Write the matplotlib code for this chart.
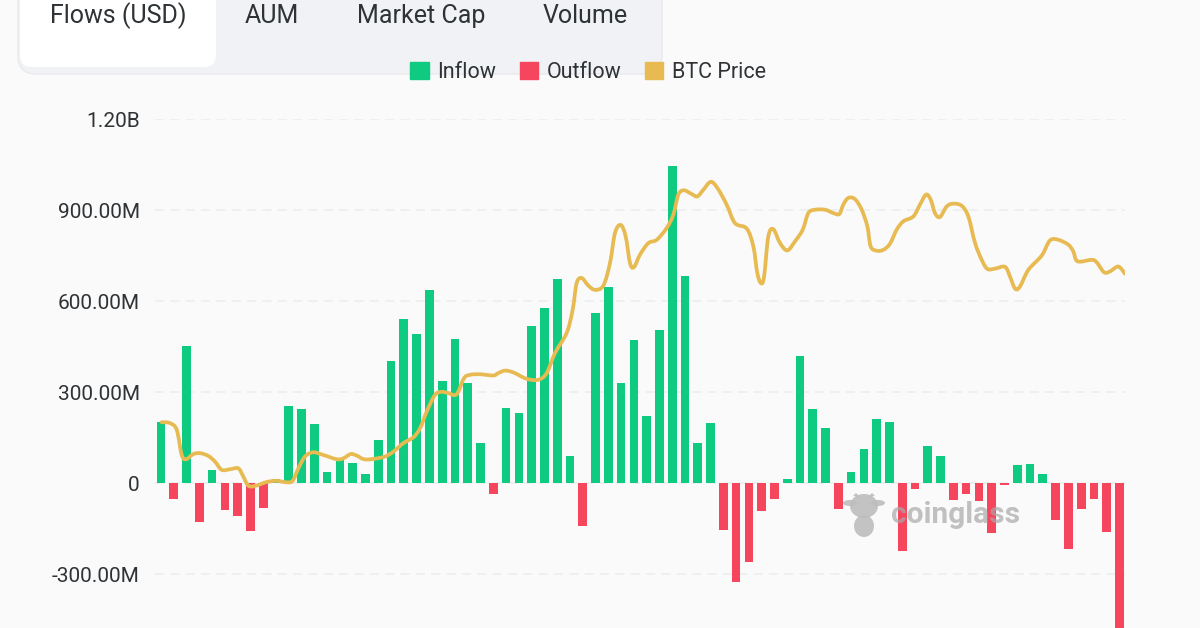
import numpy as np
import matplotlib
matplotlib.use("Agg")
import matplotlib.pyplot as plt
from matplotlib.patches import FancyBboxPatch, Patch, PathPatch, Ellipse, Polygon
from matplotlib.path import Path

# net flows per day, millions of USD
flows = [201, -53, 453, -127, 42, -88, -107, -159, -80, 14,
         253, 245, 196, 37, 77, 66, 32, 144, 403, 540,
         491, 635, 338, 475, 330, 134, -36, 249, 231, 519,
         576, 673, 91, -142, 562, 647, 331, 471, 222, 504,
         1044, 682, 132, 197, -154, -326, -260, -93, -52, 15,
         419, 243, 182, -86, 38, 113, 212, 202, -223, -20,
         123, 90, -55, -37, -58, -165, -5, 59, 62, 31,
         -121, -218, -84, -52, -162, -520]

# btc price has no axis of its own in the picture, read in flow axis units
price_x = [0.05, 0.70, 1.23, 1.62, 1.96, 2.53, 3.05, 3.70, 4.23, 4.75, 5.40, 6.05, 6.44, 6.83, 7.36,
           8.27, 9.05, 9.83, 10.30, 10.75, 11.27, 11.92, 12.70, 13.75, 14.27, 14.84, 15.31, 15.88,
           16.61, 17.53, 18.18, 18.96, 19.74, 20.27, 20.79, 21.44, 21.96, 22.48, 23.13, 23.71,
           24.18, 24.96, 26.00, 26.40, 26.92, 27.57, 28.61, 29.53, 30.18, 30.83, 31.74, 32.21,
           32.52, 32.92, 33.44, 33.96, 34.61, 35.13, 35.52, 35.97, 36.36, 36.70, 37.01, 37.48,
           38.13, 38.79, 39.57, 40.09, 40.48, 40.92, 41.52, 41.97, 42.44, 43.01, 43.53, 44.26,
           44.91, 45.83, 46.35, 46.66, 46.95, 47.19, 47.52, 47.91, 48.44, 49.01, 49.61, 50.21,
           50.65, 51.17, 51.96, 52.61, 53.08, 53.39, 53.78, 54.30, 54.83, 55.27, 55.53, 56.00,
           56.52, 57.04, 57.56, 58.09, 58.87, 59.39, 59.86, 60.23, 60.56, 60.95, 61.48, 62.00,
           62.65, 63.17, 63.70, 64.22, 64.66, 65.26, 66.04, 66.43, 66.83, 67.21, 67.87, 68.91,
           69.56, 70.21, 70.99, 71.38, 71.72, 72.82, 73.21, 73.79, 74.26, 74.91, 75.43]
price_y = [201, 198, 176, 93, 79, 96, 99, 90, 71, 44, 46, 49, 22, -8, -9,
           4, 8, 3, 8, 49, 88, 102, 93, 79, 82, 96, 91, 79,
           80, 88, 104, 132, 151, 181, 236, 291, 301, 297, 293, 346,
           357, 359, 355, 363, 371, 365, 344, 341, 363, 429, 495, 571,
           659, 676, 651, 637, 651, 725, 824, 851, 813, 725, 712, 753,
           791, 802, 841, 885, 951, 965, 953, 945, 967, 993, 973, 918,
           857, 839, 780, 692, 659, 681, 813, 837, 791, 767, 797, 835,
           890, 901, 901, 890, 887, 918, 940, 936, 901, 846, 780, 766,
           769, 789, 835, 863, 879, 918, 951, 934, 890, 877, 912, 921,
           914, 879, 791, 736, 706, 707, 713, 681, 641, 648, 703, 750,
           800, 802, 786, 764, 731, 736, 728, 695, 698, 714, 690]

y_ticks = [-300, 0, 300, 600, 900, 1200]
y_labels = ["-300.00M", "0", "300.00M", "600.00M", "900.00M", "1.20B"]
tabs = ["Flows (USD)", "AUM", "Market Cap", "Volume"]
tab_x = [118, 272, 421, 585]

GREEN = "#0ECB81"
RED = "#F6465D"
GOLD = "#E7BA52"
BG = "#FAFAFA"
TEXT = "#2F3336"

plt.rcParams["font.family"] = ["Roboto", "DejaVu Sans"]


def smooth_path(xs, ys):
    # catmull-rom through the read points, as bezier segments
    pts = np.column_stack([xs, ys]).astype(float)
    verts = [pts[0]]
    codes = [Path.MOVETO]
    for i in range(len(pts) - 1):
        p0 = pts[max(i - 1, 0)]
        p1 = pts[i]
        p2 = pts[i + 1]
        p3 = pts[min(i + 2, len(pts) - 1)]
        verts += [p1 + (p2 - p0) / 6, p2 - (p3 - p1) / 6, p2]
        codes += [Path.CURVE4] * 3
    return Path(verts, codes)


fig = plt.figure(figsize=(12, 6.28), dpi=100, facecolor=BG)

# plot area in pixels: x 155-1125, y 119-628
ax = fig.add_axes([155 / 1200, 0, 970 / 1200, (628 - 119) / 628])
ax.set_facecolor("none")
ax.set_xlim(-0.47, 75.43)
ax.set_ylim(-477, 1200)

x = np.arange(len(flows))
values = np.array(flows)
ax.bar(x[values >= 0], values[values >= 0], width=0.68, color=GREEN, zorder=2, label="Inflow")
ax.bar(x[values < 0], values[values < 0], width=0.68, color=RED, zorder=2, label="Outflow")
ax.add_patch(PathPatch(smooth_path(price_x, price_y), fill=False, edgecolor=GOLD, lw=2.7,
                       capstyle="round", joinstyle="round", zorder=3))

ax.set_yticks(y_ticks)
ax.set_yticklabels(y_labels)
ax.set_xticks([])
ax.tick_params(axis="y", length=0, pad=11, labelsize=15, labelcolor=TEXT)
ax.grid(axis="y", color="#EDEEF0", lw=1.3, linestyle=(0, (5, 3.5)), zorder=1)
ax.set_axisbelow(True)
for spine in ax.spines.values():
    spine.set_visible(False)

handles = [Patch(color=GREEN), Patch(color=RED), Patch(color=GOLD)]
fig.legend(handles, ["Inflow", "Outflow", "BTC Price"], ncol=3, frameon=False,
           loc="center", bbox_to_anchor=(588 / 1200, 1 - 72 / 628), fontsize=15.5,
           labelcolor=TEXT, handlelength=0.84, handleheight=0.84, handletextpad=0.4,
           columnspacing=1.1)

# tabs and watermark in pixel coordinates
top = fig.add_axes([0, 0, 1, 1], zorder=5)
top.set_xlim(0, 1200)
top.set_ylim(628, 0)
top.axis("off")
top.add_patch(FancyBboxPatch((18, -30), 644, 104, boxstyle="round,pad=0,rounding_size=18",
                             fc="#F1F2F5", ec="#E9EAED", lw=1))
top.add_patch(FancyBboxPatch((20, -30), 196, 97, boxstyle="round,pad=0,rounding_size=12",
                             fc="white", ec="none"))
for label, tx in zip(tabs, tab_x):
    top.text(tx, 16, label, ha="center", va="center", fontsize=18, color=TEXT)

mark = "#BDBDBD"
top.add_patch(Ellipse((864, 506), 28, 24, fc=mark, ec="none", alpha=0.9))
top.add_patch(Ellipse((864, 526), 20, 22, fc=mark, ec="none", alpha=0.9))
top.add_patch(Ellipse((850, 503), 14, 6, fc=mark, ec="none", alpha=0.9))
top.add_patch(Ellipse((878, 503), 14, 6, fc=mark, ec="none", alpha=0.9))
top.add_patch(Polygon([(853, 496), (856, 493), (860, 497)], fc=mark, ec="none", alpha=0.9))
top.add_patch(Polygon([(875, 496), (872, 493), (868, 497)], fc=mark, ec="none", alpha=0.9))
top.text(956, 515, "coinglass", ha="center", va="center", fontsize=21.5, fontweight="bold",
         color="#A8A8A8", alpha=0.7)

fig.savefig("out.png", dpi=100, facecolor=BG)
